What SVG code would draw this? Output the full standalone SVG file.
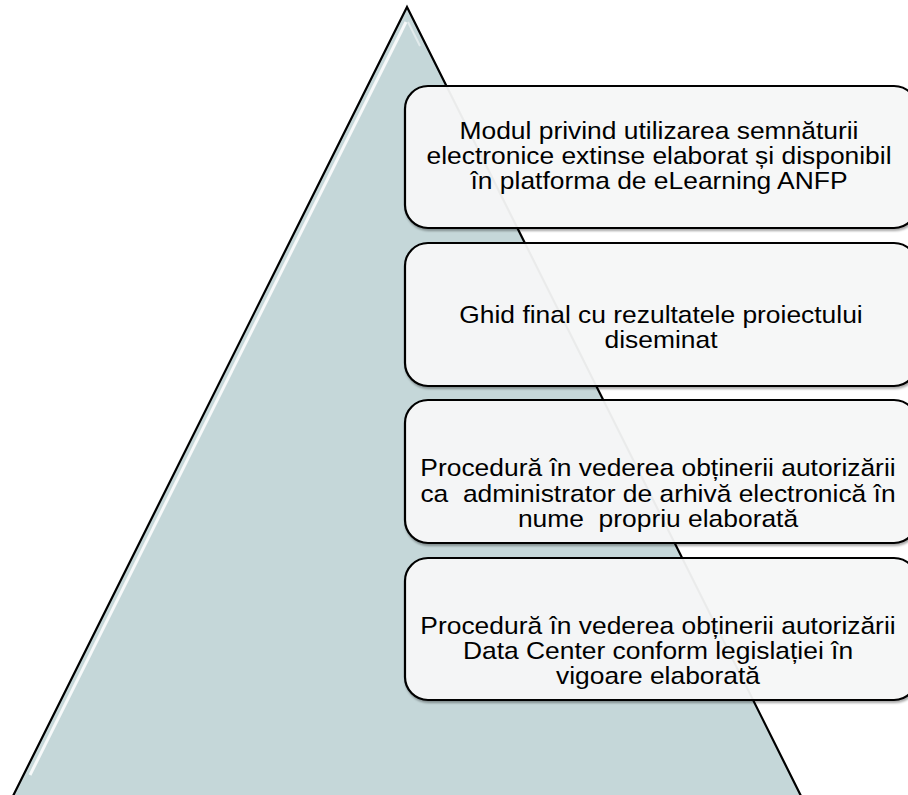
<svg xmlns="http://www.w3.org/2000/svg" width="908" height="795" viewBox="0 0 908 795">
<style>
.box{fill:#f9fafa;fill-opacity:0.93;stroke:#000;stroke-width:2.2}
.t{font-family:"Liberation Sans",Arial,sans-serif;font-size:24px;fill:#000;text-anchor:middle}
</style>
<defs>
<filter id="sh" x="-5%" y="-5%" width="110%" height="115%">
<feDropShadow dx="1" dy="2" stdDeviation="1" flood-color="#000" flood-opacity="0.35"/>
</filter>
</defs>
<rect width="908" height="795" fill="#fff"/>
<g id="pyramid">
<polygon points="407,7 804,802 10,802" fill="#c5d7d9" stroke="#000" stroke-width="2.2" stroke-linejoin="miter"/>
<polyline points="406,22 30,775" fill="none" stroke="#fff" stroke-width="3" stroke-opacity="0.85"/>
<polyline points="408,22 420,46" fill="none" stroke="#fff" stroke-width="2" stroke-opacity="0.5"/>
</g>
<g id="connectors"></g>
<g id="node1">
<rect class="box" x="405" y="86" width="512" height="142" rx="23" filter="url(#sh)"/>
<g transform="translate(659,0) scale(1.1,1)">
<text class="t" x="0" y="139">Modul privind utilizarea semnăturii</text>
<text class="t" x="0" y="164">electronice extinse elaborat și disponibil</text>
<text class="t" x="0" y="189">în platforma de eLearning ANFP</text>
</g>
</g>
<g id="node2">
<rect class="box" x="405" y="243" width="512" height="143" rx="23" filter="url(#sh)"/>
<g transform="translate(661,0) scale(1.1,1)">
<text class="t" x="0" y="323">Ghid final cu rezultatele proiectului</text>
<text class="t" x="0" y="348">diseminat</text>
</g>
</g>
<g id="node3">
<rect class="box" x="405" y="400" width="512" height="143" rx="23" filter="url(#sh)"/>
<g transform="translate(658,0) scale(1.1,1)">
<text class="t" x="0" y="476">Procedură în vederea obținerii autorizării</text>
<text class="t" x="0" y="502" xml:space="preserve">ca  administrator de arhivă electronică în</text>
<text class="t" x="0" y="527" xml:space="preserve">nume  propriu elaborată</text>
</g>
</g>
<g id="node4">
<rect class="box" x="405" y="558" width="512" height="142" rx="23" filter="url(#sh)"/>
<g transform="translate(658,0) scale(1.1,1)">
<text class="t" x="0" y="634">Procedură în vederea obținerii autorizării</text>
<text class="t" x="0" y="659">Data Center conform legislației în</text>
<text class="t" x="0" y="684">vigoare elaborată</text>
</g>
</g>
</svg>
